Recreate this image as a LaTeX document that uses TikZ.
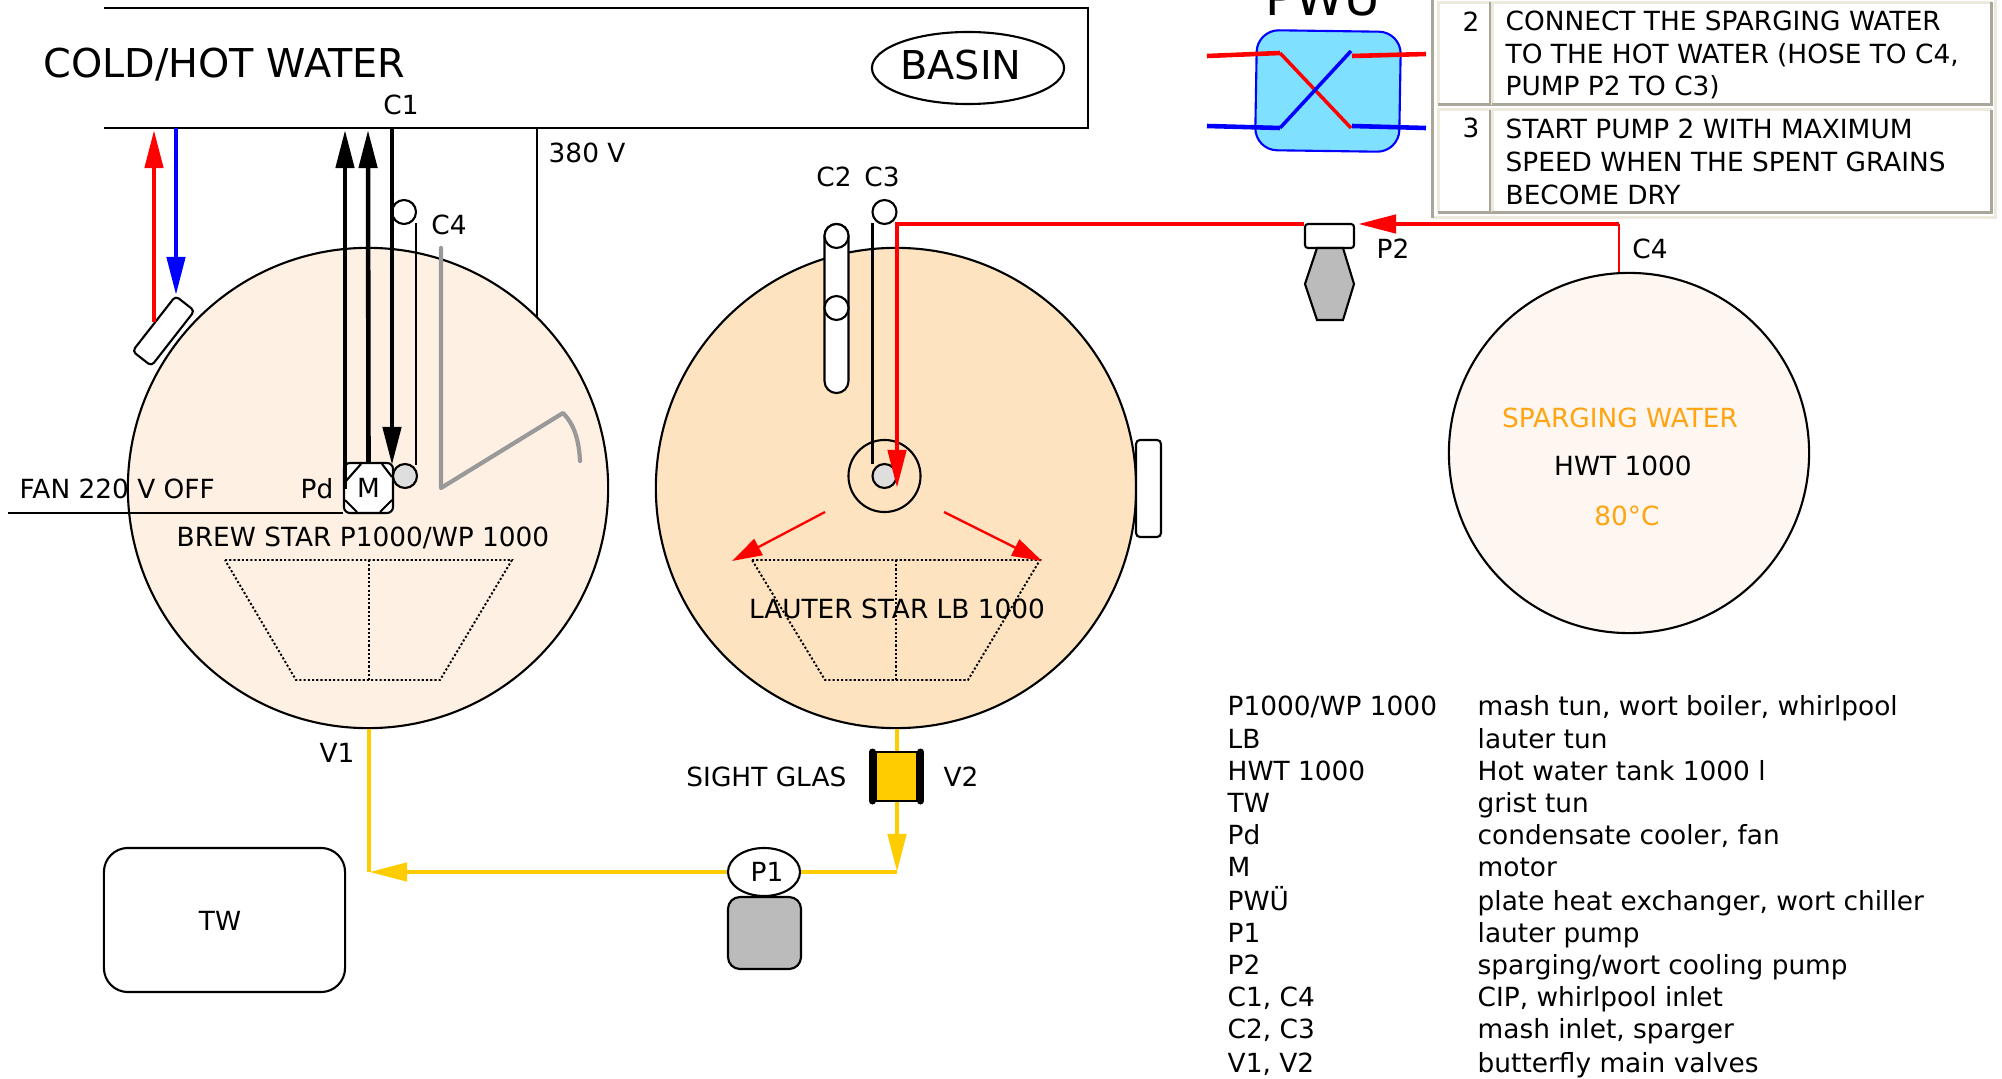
\documentclass[tikz,border=0pt]{standalone}
\usepackage{fontspec}
\setmainfont{DejaVu Sans}
\usetikzlibrary{arrows.meta,shapes.geometric}
\definecolor{brewfill}{HTML}{FEF0E3}
\definecolor{lauterfill}{HTML}{FDE3BF}
\definecolor{spargefill}{HTML}{FEF6F0}
\definecolor{wortyellow}{HTML}{FFCC00}
\definecolor{hotorange}{HTML}{FFA514}
\definecolor{pwufill}{HTML}{80E0FF}
\definecolor{pumpgray}{HTML}{BBBBBB}
\definecolor{cellpale}{HTML}{EDE9DC}
\definecolor{celldark}{HTML}{AAA699}
\tikzset{
  lbl/.style={inner sep=0pt, font=\fontsize{7.5}{9.3}\selectfont},
  biglbl/.style={inner sep=0pt, font=\fontsize{11.3}{13}\selectfont},
  outline/.style={line width=0.6pt},
  vessel/.style={circle, draw, outline, inner sep=0pt, minimum size=#1},
  port/.style={circle, draw, outline, fill=white, inner sep=0pt, minimum size=0.24cm},
  box/.style={rectangle, draw, outline, fill=white, inner sep=0pt},
  pipe/.style={line width=1.3pt},
  tip/.style={-{Triangle[length=0.38cm,width=0.18cm]}},
  spraytip/.style={-{Triangle[length=0.3cm,width=0.18cm]}},
  trapeze/.style={dash pattern=on 0.6pt off 0.6pt, line width=0.55pt},
  cellbox/.style={rectangle, inner sep=0pt, minimum height=1.01cm},
  paleedge/.style={line width=0.85pt, cellpale},
  darkedge/.style={line width=0.85pt, celldark}
}
\begin{document}
\begin{tikzpicture}[x=0.01cm, y=-0.01cm]
    \clip (0,0) rectangle (2002,1079);

    % Basin
    \draw[outline] (104,8) -| (1088,128) -- (104,128);
    \node[biglbl, anchor=west] (water) at (43,65) {COLD/HOT WATER};
    \node[ellipse, draw, outline, minimum width=1.92cm, minimum height=0.72cm, inner sep=0pt] (basin) at (968,68) {};
    \node[biglbl] (basinlbl) at (961,65) {BASIN};

    % Kettles
    \node[vessel=4.8cm, fill=brewfill] (brew) at (368,488) {};
    \node[vessel=4.8cm, fill=lauterfill] (lauter) at (896,488) {};
    \node[vessel=3.6cm, fill=spargefill] (sparge) at (1629,453) {};

    % Coordinates on the basin line
    \coordinate (hotup) at (154,130);
    \coordinate (colddown) at (176,128);
    \coordinate (cleft) at (345,130);
    \coordinate (cmid) at (368,130);
    \coordinate (cright) at (392,127);
    \coordinate (power) at (537,128);
    \coordinate (powerend) at (537,318);

    % Fan unit and its water
    \node[box, rounded corners=0.04cm, minimum width=0.7cm, minimum height=0.24cm, rotate=52] (fan) at (163.5,331) {};
    \coordinate (fanhot) at (154,322);
    \coordinate (fancold) at (176,295);
    \draw[tip, pipe, red] (fanhot) -- (hotup);
    \draw[tip, pipe, blue] (colddown) -- (fancold);

    % Motor
    \node[box, rounded corners=0.06cm, minimum width=0.49cm, minimum height=0.5cm, font=\fontsize{7.5}{9}\selectfont] (motor) at (368.5,488) {M};
    \draw[outline] (346,481) -- (361,464);
    \draw[outline] (382,464) -- (392,477);
    \draw[outline] (345,500) -- (357,512);
    \draw[outline] (380,512) -- (392,500);
    \node[port, fill=black!13] (cip) at (405,476) {};
    \node[port] (cfour) at (404,212) {};

    % Lines into the brew kettle
    \coordinate (pdfoot) at (345,489);
    \coordinate (cfoot) at (392,465);
    \coordinate (thintop) at (416,223);
    \coordinate (thinfoot) at (416,465);
    \draw[tip, pipe] (pdfoot) -- (cleft);
    \draw[tip, pipe] (motor.north) -- (cmid);
    \draw[tip, pipe] (cright) -- (cfoot);
    \draw[outline] (thintop) -- (thinfoot);
    \draw[outline] (power) -- (powerend);

    % Grey wing
    \draw[line width=1.2pt, black!40, line join=round, line cap=round] (441,248) -- (441,488) -- (563,413) .. controls (574,424) and (579,440) .. (580,461);

    % Fan wire
    \coordinate (wireend) at (8,513);
    \draw[outline] (wireend) -- (wireend -| motor.west);

    % Texts at the brew kettle
    \node[lbl] (cone) at (401,105) {C1};
    \node[lbl, anchor=west] (volt) at (548,153) {380 V};
    \node[lbl] (cfourlbl) at (449,225) {C4};
    \node[lbl] (pd) at (317,489) {Pd};
    \node[lbl, anchor=west] (fanlbl) at (19,489) {FAN 220 V OFF};
    \node[lbl] (brewlbl) at (363,538) {BREW STAR P1000/WP 1000};

    % Cones
    \draw[trapeze] (225,560) -- (512,560) -- (440,680) -- (296,680) -- cycle;
    \draw[trapeze] (369,560) -- (369,680);
    \draw[trapeze] (752,560) -- (1040,560) -- (968,680) -- (825,680) -- cycle;
    \draw[trapeze] (896,560) -- (896,680);

    % Lauter kettle
    \node[box, rounded corners=0.12cm, minimum width=0.24cm, minimum height=1.69cm] (tube) at (836.5,308.5) {};
    \node[port] (ctwo) at (836.5,236) {};
    \node[port] (ctwob) at (836.5,308) {};
    \node[port] (cthree) at (884.5,212) {};
    \node[circle, draw, outline, inner sep=0pt, minimum size=0.72cm] (hub) at (884.5,476) {};
    \node[port, fill=black!13] (hubin) at (884.5,476) {};
    \coordinate (rodtop) at (872.5,223);
    \coordinate (rodfoot) at (872.5,464);
    \draw[outline] (rodtop) -- (rodfoot);
    \node[box, rounded corners=0.04cm, minimum width=0.25cm, minimum height=0.97cm] (side) at (1148.5,488.5) {};
    \node[lbl] (ctwolbl) at (834,177) {C2};
    \node[lbl] (cthreelbl) at (882,177) {C3};
    \node[lbl] (lauterlbl) at (897,609) {LAUTER STAR LB 1000};

    % Spray arrows
    \coordinate (sprayl) at (825,512);
    \coordinate (sprayr) at (944,512);
    \coordinate (tipl) at (732,561);
    \coordinate (tipr) at (1042,561);
    \draw[spraytip, line width=0.65pt, red] (sprayl) -- (tipl);
    \draw[spraytip, line width=0.65pt, red] (sprayr) -- (tipr);

    % Pump P2 and red pipe
    \node[box, rounded corners=0.03cm, minimum width=0.49cm, minimum height=0.24cm] (ptwo) at (1329.5,236) {};
    \draw[outline, fill=pumpgray] (1317,248) -- (1343,248) -- (1354,284) -- (1343,320) -- (1317,320) -- (1305,284) -- cycle;
    \coordinate (bend) at (1619,224);
    \coordinate (tap) at (1619,272);
    \coordinate (arrive) at (1358,224);
    \coordinate (corner) at (897,224);
    \coordinate (spray) at (897,488);
    \draw[line width=0.8pt, red] (tap) -- (bend);
    \draw[tip, pipe, red] (bend) -- (arrive);
    \draw[tip, pipe, red] (corner -| ptwo.west) -- (corner) -- (spray);
    \node[lbl] (ptwolbl) at (1393,249) {P2};
    \node[lbl] (cfourtap) at (1650,249) {C4};

    % Sparging water
    \node[lbl, text=hotorange] (spargelbl) at (1620,417.5) {SPARGING WATER};
    \node[lbl] (hwt) at (1623,466) {HWT 1000};
    \node[lbl, text=hotorange] (temp) at (1627,516) {80°C};

    % Plate heat exchanger
    \draw[blue, fill=pwufill, line width=0.6pt, rounded corners=0.22cm] (1257,30) -- (1401,32) -- (1399,152) -- (1255,150) -- cycle;
    \node[font=\fontsize{14}{16}\selectfont, inner sep=0pt, anchor=base] (pwu) at (1323,16) {PWÜ};
    \coordinate (redin) at (1207,56);
    \coordinate (redone) at (1280,53);
    \coordinate (redtwo) at (1351,128);
    \coordinate (redbout) at (1352,56);
    \coordinate (redout) at (1426,54);
    \coordinate (bluein) at (1207,126);
    \coordinate (blueone) at (1280,128);
    \coordinate (bluetwo) at (1351,51);
    \coordinate (bluebout) at (1352,126);
    \coordinate (blueout) at (1426,128);
    \draw[line width=1pt, red] (redone) -- (redtwo);
    \draw[line width=1pt, blue] (blueone) -- (bluetwo);
    \draw[pipe, red] (redin) -- (redone);
    \draw[pipe, red] (redbout) -- (redout);
    \draw[pipe, blue] (bluein) -- (blueone);
    \draw[pipe, blue] (bluebout) -- (blueout);

    % Table
    \draw[line width=0.85pt, cellpale] (1432.5,217.5) -| (1995,0);
    \draw[darkedge] (1432.5,0) -- (1432.5,218);
    \node[cellbox, minimum width=0.51cm] (numa) at (1464.5,53.5) {};
    \node[cellbox, minimum width=4.98cm] (cella) at (1742,53.5) {};
    \node[cellbox, minimum width=0.51cm] (numb) at (1464.5,161) {};
    \node[cellbox, minimum width=4.98cm] (cellb) at (1742,161) {};
    \draw[paleedge] (numa.south west) |- (numa.north east);
    \draw[darkedge] (numa.south west) -| (numa.north east);
    \draw[paleedge] (cella.south west) |- (cella.north east);
    \draw[darkedge] (cella.south west) -| (cella.north east);
    \draw[paleedge] (numb.south west) |- (numb.north east);
    \draw[darkedge] (numb.south west) -| (numb.north east);
    \draw[paleedge] (cellb.south west) |- (cellb.north east);
    \draw[darkedge] (cellb.south west) -| (cellb.north east);
    \node[lbl, anchor=east] (stepa) at (1480,22) {2};
    \node[lbl, anchor=east] (stepb) at (1480,128) {3};
    \node[lbl, anchor=west, align=left] (texta) at (1505,55) {CONNECT THE SPARGING WATER\\TO THE HOT WATER (HOSE TO C4,\\PUMP P2 TO C3)};
    \node[lbl, anchor=west, align=left] (textb) at (1505,162) {START PUMP 2 WITH MAXIMUM\\SPEED WHEN THE SPENT GRAINS\\BECOME DRY};

    % Wort pipes
    \node[rectangle, draw, outline, fill=wortyellow, inner sep=0pt, minimum width=0.41cm, minimum height=0.49cm] (glass) at (896.5,776.5) {};
    \draw[line width=0.07cm, line cap=round] (872.5,752) -- (872.5,801);
    \draw[line width=0.07cm, line cap=round] (920.5,752) -- (920.5,801);
    \node[ellipse, draw, outline, inner sep=0pt, minimum width=0.72cm, minimum height=0.48cm] (pone) at (764,872) {};
    \node[lbl] (ponelbl) at (767,872) {P1};
    \node[box, fill=pumpgray, rounded corners=0.12cm, minimum width=0.73cm, minimum height=0.72cm] (ponebody) at (764.5,933) {};
    \node[box, rounded corners=0.24cm, minimum width=2.41cm, minimum height=1.44cm] (tw) at (224.5,920) {};
    \node[lbl] (twlbl) at (220,921) {TW};
    \coordinate (vone) at (369,729);
    \coordinate (drop) at (369,872);
    \coordinate (vtwo) at (897,729);
    \coordinate (join) at (897,872);
    \draw[pipe, wortyellow] (vone) -- (drop);
    \draw[pipe, wortyellow] (vtwo) -- (glass.north -| vtwo);
    \draw[tip, pipe, wortyellow] (glass.south -| vtwo) -- (join);
    \draw[pipe, wortyellow] (join) -- (pone.east);
    \draw[tip, pipe, wortyellow] (pone.west) -- (drop);
    \node[lbl] (vonelbl) at (337,753) {V1};
    \node[lbl] (vtwolbl) at (961,777) {V2};
    \node[lbl, anchor=east] (sight) at (847,777) {SIGHT GLAS};

    % Legend
    \node[lbl, anchor=base west] (keya) at (1227,715) {P1000/WP 1000};
    \node[lbl, anchor=base west] (desca) at (1477,715) {mash tun, wort boiler, whirlpool};
    \node[lbl, anchor=base west] (keyb) at (1227,748) {LB};
    \node[lbl, anchor=base west] (descb) at (1477,748) {lauter tun};
    \node[lbl, anchor=base west] (keyc) at (1227,780) {HWT 1000};
    \node[lbl, anchor=base west] (descc) at (1477,780) {Hot water tank 1000 l};
    \node[lbl, anchor=base west] (keyd) at (1227,812) {TW};
    \node[lbl, anchor=base west] (descd) at (1477,812) {grist tun};
    \node[lbl, anchor=base west] (keye) at (1227,844) {Pd};
    \node[lbl, anchor=base west] (desce) at (1477,844) {condensate cooler, fan};
    \node[lbl, anchor=base west] (keyf) at (1227,876) {M};
    \node[lbl, anchor=base west] (descf) at (1477,876) {motor};
    \node[lbl, anchor=base west] (keyg) at (1227,910) {PWÜ};
    \node[lbl, anchor=base west] (descg) at (1477,910) {plate heat exchanger, wort chiller};
    \node[lbl, anchor=base west] (keyh) at (1227,942) {P1};
    \node[lbl, anchor=base west] (desch) at (1477,942) {lauter pump};
    \node[lbl, anchor=base west] (keyi) at (1227,974) {P2};
    \node[lbl, anchor=base west] (desci) at (1477,974) {sparging/wort cooling pump};
    \node[lbl, anchor=base west] (keyj) at (1227,1006) {C1, C4};
    \node[lbl, anchor=base west] (descj) at (1477,1006) {CIP, whirlpool inlet};
    \node[lbl, anchor=base west] (keyk) at (1227,1038) {C2, C3};
    \node[lbl, anchor=base west] (desck) at (1477,1038) {mash inlet, sparger};
    \node[lbl, anchor=base west] (keyl) at (1227,1072) {V1, V2};
    \node[lbl, anchor=base west] (descl) at (1477,1072) {butterfly main valves};
\end{tikzpicture}
\end{document}
